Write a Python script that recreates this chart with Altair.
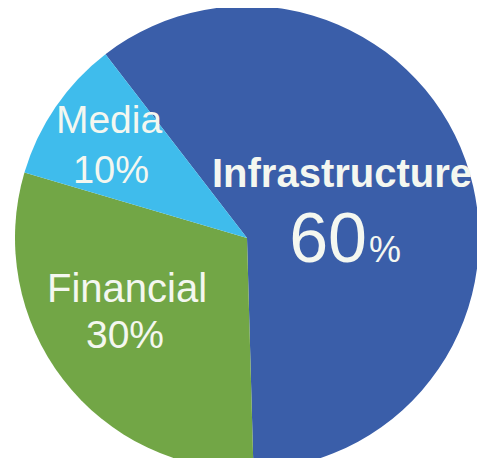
import math
import altair as alt
import pandas as pd

categories = ["Infrastructure", "Financial", "Media"]
shares = [60, 30, 10]
colors = ["#3a5ea9", "#72a646", "#3fbcec"]

df = pd.DataFrame({"category": categories, "share": shares, "idx": list(range(len(categories)))})

start = math.radians(-37.6)
CX, CY, R = 239, 230, 232

pie = alt.Chart(df).mark_arc(outerRadius=R).encode(
    theta=alt.Theta("share:Q", stack=True, scale=alt.Scale(domain=[0, 100], range=[start, start + 2 * math.pi])),
    color=alt.Color("category:N", scale=alt.Scale(domain=categories, range=colors), legend=None),
    order=alt.Order("idx:Q"),
    x=alt.value(CX),
    y=alt.value(CY),
)

TXT = "#f4f7f0"
FONT = "Liberation Sans"

def label(text, x, y, size, bold=False, align="center"):
    return alt.Chart(pd.DataFrame({"t": [text]})).mark_text(
        font=FONT, fontSize=size, fontWeight="bold" if bold else "normal",
        color=TXT, align=align, baseline="alphabetic"
    ).encode(text="t:N", x=alt.value(x), y=alt.value(y))

pct = {c: f"{s}%" for c, s in zip(categories, shares)}

layers = [
    pie,
    label(categories[2], 101, 125, 39),
    label(pct["Media"], 103, 175, 38),
    label(categories[1], 119, 294, 40),
    label(pct["Financial"], 117, 340, 39),
    label(categories[0], 334, 179, 40, bold=True),
    label(str(shares[0]), 359, 254, 70, align="right"),
    label("%", 361, 254, 36, align="left"),
]

chart = alt.layer(*layers).properties(
    width=469, height=450, autosize=alt.AutoSizeParams(type="none"), padding=0,
    background="white",
).configure_view(strokeWidth=0, stroke="transparent")

chart.save("out.html", embed_options={"renderer": "svg", "actions": False})
